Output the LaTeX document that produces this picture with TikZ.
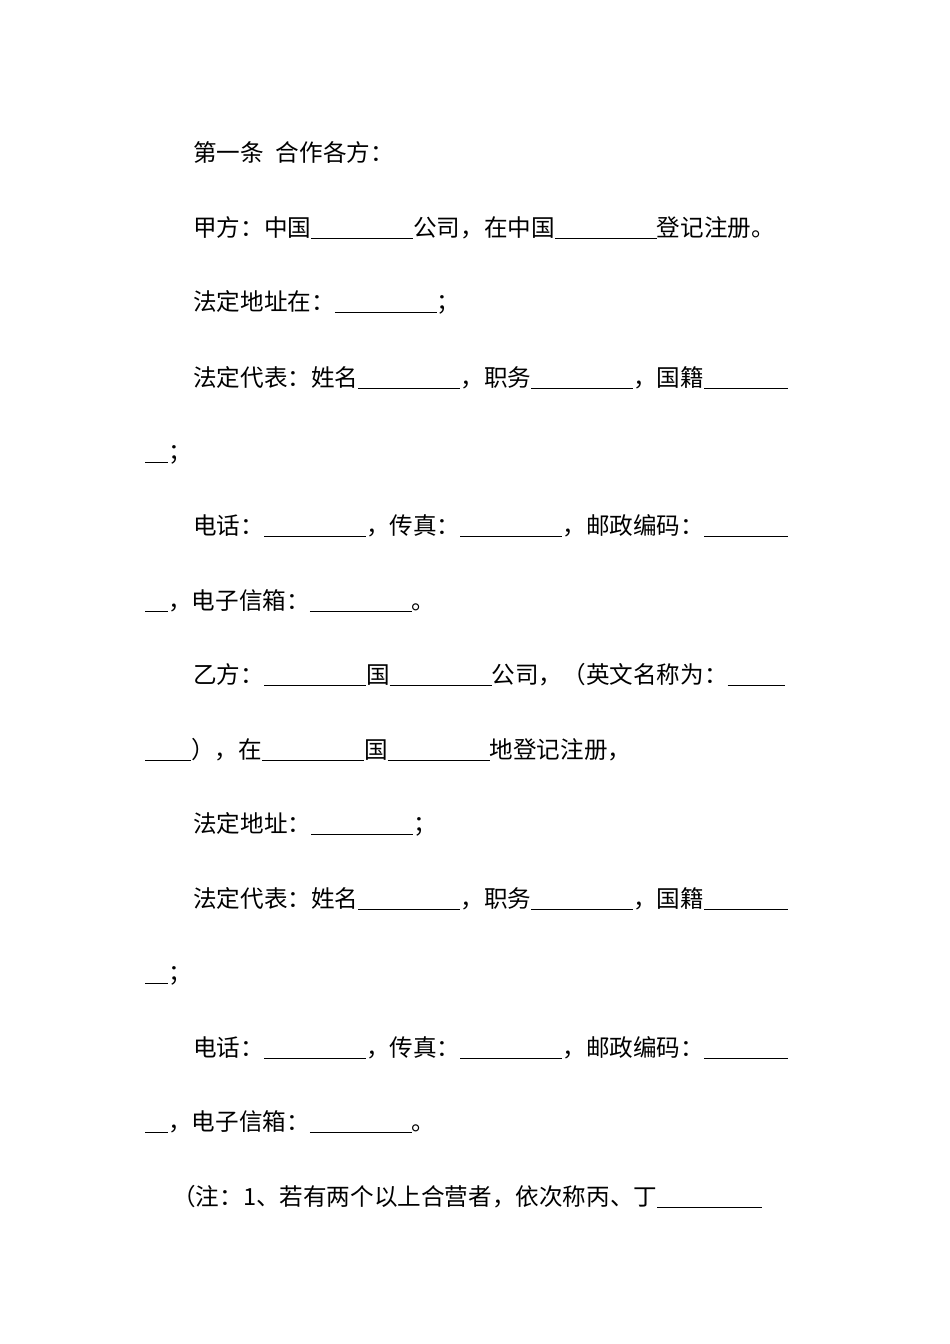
\documentclass[tikz,border=0pt]{standalone}
\usepackage{fontspec}
\setmainfont{Noto Sans CJK SC}
\newcommand{\bl}[1]{\rule[-3pt]{#1pt}{0.7pt}}
\begin{document}
\begin{tikzpicture}[x=1pt,y=-1pt,
  ln/.style={anchor=base west,inner sep=0pt,font=\fontsize{23.6}{24}\selectfont}]
\useasboundingbox (0,0) rectangle (950,1344);
\fill[white] (0,0) rectangle (950,1344);
\node[ln] (l1) at (193,161) {第一条\hspace{12pt}合作各方：};
\node[ln] (l2) at (193,236) {甲方：中国\bl{102}公司，在中国\bl{102}登记注册。};
\node[ln] (l3) at (193,310) {法定地址在：\bl{102}；};
\node[ln] (l4) at (193,386) {法定代表：姓名\bl{102}，职务\bl{102}，国籍\bl{84}};
\node[ln] (l5) at (145,460) {\bl{23}；};
\node[ln] (l6) at (193,534) {电话：\bl{102}，传真：\bl{102}，邮政编码：\bl{84}};
\node[ln] (l7) at (145,609) {\bl{23}，电子信箱：\bl{102}。};
\node[ln] (l8) at (193,683) {乙方：\bl{102}国\bl{102}公司，（英文名称为：\bl{57}};
\node[ln] (l9) at (145,758) {\bl{46}），在\bl{102}国\bl{102}地登记注册，};
\node[ln] (l10) at (193,832) {法定地址：\bl{102}；};
\node[ln] (l11) at (193,907) {法定代表：姓名\bl{102}，职务\bl{102}，国籍\bl{84}};
\node[ln] (l12) at (145,981) {\bl{23}；};
\node[ln] (l13) at (193,1056) {电话：\bl{102}，传真：\bl{102}，邮政编码：\bl{84}};
\node[ln] (l14) at (145,1130) {\bl{23}，电子信箱：\bl{102}。};
\node[ln] (l15) at (172,1205) {（注：1、若有两个以上合营者，依次称丙、丁\bl{105}};
\end{tikzpicture}
\end{document}
